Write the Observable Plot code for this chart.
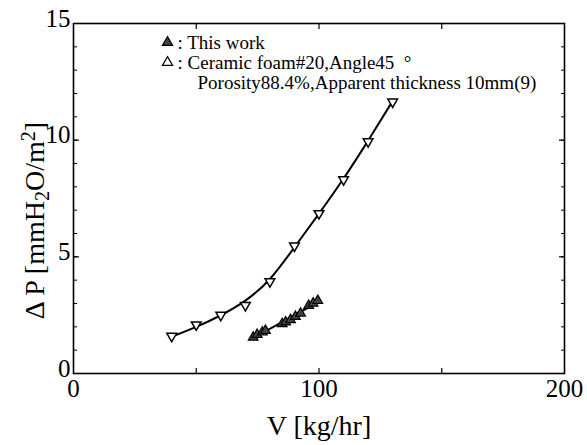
<!DOCTYPE html>
<html><head><meta charset="utf-8">
<script src="https://cdn.jsdelivr.net/npm/d3@7"></script>
<script src="https://cdn.jsdelivr.net/npm/@observablehq/plot@0.6"></script>
<style>
body{margin:0;background:#fff;}
#chart svg{font-family:"Liberation Serif",serif;}
</style>
</head><body><div id="chart"></div>
<script>
// Ceramic foam #20 (open, down-pointing triangles)
const refV = [40, 50, 60, 70, 80, 90, 100, 110, 120, 130];
const refP = [1.6, 2.09, 2.5, 2.92, 3.94, 5.47, 6.86, 8.31, 9.94, 11.64];
// fitted curve through the reference data
const fitV = [40, 50, 60, 70, 80, 90, 100, 110, 120, 130];
const fitP = [1.58, 1.98, 2.48, 3.08, 3.95, 5.42, 6.84, 8.33, 9.97, 11.68];
// This work (filled triangles)
const workV = [73.2, 74.8, 76.9, 78.2, 85.0, 86.4, 88.4, 90.4, 92.5, 95.8, 97.6, 99.5];
const workP = [1.55, 1.67, 1.77, 1.84, 2.13, 2.2, 2.3, 2.44, 2.58, 2.91, 3.01, 3.12];
const xTickLabels = [0, 100, 200];
const yTickLabels = [0, 5, 10, 15];
const legendLines = [": This work", ": Ceramic foam#20,Angle45  \u00B0", "Porosity88.4%,Apparent thickness 10mm(9)"];

const ref = refV.map((v, i) => ({v, p: refP[i]}));
const fit = fitV.map((v, i) => ({v, p: fitP[i]}));
const work = workV.map((v, i) => ({v, p: workP[i]}));

const font = "Liberation Serif";
const noLab = () => "";
const chart = Plot.plot({
  width: 587, height: 445,
  marginLeft: 73, marginRight: 23, marginTop: 23, marginBottom: 72,
  style: {fontFamily: font, background: "#fff", color: "#000"},
  x: {domain: [0, 200]},
  y: {domain: [0, 15]},
  marks: [
    Plot.frame({stroke: "#000", strokeWidth: 1.6}),
    // inward ticks
    Plot.axisX({anchor: "bottom", ticks: [50, 100, 150], tickSize: -5, tickFormat: noLab, label: null, strokeWidth: 1.2}),
    Plot.axisX({anchor: "top", ticks: [50, 100, 150], tickSize: -5, tickFormat: noLab, label: null, strokeWidth: 1.2}),
    Plot.axisY({anchor: "left", ticks: d3.range(1, 15), tickSize: -4, tickFormat: noLab, label: null, strokeWidth: 1}),
    Plot.axisY({anchor: "left", ticks: [5, 10], tickSize: -6, tickFormat: noLab, label: null, strokeWidth: 1.2}),
    Plot.axisY({anchor: "right", ticks: d3.range(1, 15), tickSize: -4, tickFormat: noLab, label: null, strokeWidth: 1}),
    Plot.axisY({anchor: "right", ticks: [5, 10], tickSize: -6, tickFormat: noLab, label: null, strokeWidth: 1.2}),
    // tick labels
    Plot.axisX({anchor: "bottom", ticks: xTickLabels, tickSize: 0, tickPadding: 6, fontSize: 25, label: null}),
    Plot.axisY({anchor: "left", ticks: yTickLabels, tickSize: 0, tickPadding: 3, fontSize: 25, label: null, dy: -5}),
    // axis titles
    Plot.text(["V [kg/hr]"], {frameAnchor: "bottom", dy: 61, fontSize: 28, fill: "#000"}),
    Plot.text(["\u0394 P [mmH2O/m2]"], {frameAnchor: "left", dx: -38, dy: 22, rotate: -90, textAnchor: "middle", fontSize: 28, fill: "#000", className: "ylab"}),
    // data
    Plot.line(fit, {x: "v", y: "p", curve: "basis", stroke: "#000", strokeWidth: 2}),
    Plot.linearRegressionY(work, {x: "v", y: "p", ci: 0, stroke: "#000", strokeWidth: 2}),
    Plot.dot(ref, {x: "v", y: "p", symbol: "triangle", rotate: 180, r: 3.6, fill: "#fff", stroke: "#000", strokeWidth: 1.5}),
    Plot.dot(work, {x: "v", y: "p", symbol: "triangle", r: 3.6, fill: "#444", stroke: "#000", strokeWidth: 1.2}),
    // legend
    Plot.dot([0], {frameAnchor: "top-left", dx: 94, dy: 19, symbol: "triangle", r: 3.8, fill: "#444", stroke: "#000", strokeWidth: 1.2}),
    Plot.dot([0], {frameAnchor: "top-left", dx: 94, dy: 39, symbol: "triangle", r: 3.8, fill: "#fff", stroke: "#000", strokeWidth: 1.2}),
    Plot.text([legendLines[0]], {frameAnchor: "top-left", dx: 104, dy: 19, textAnchor: "start", lineAnchor: "middle", fontSize: 19, fill: "#000"}),
    Plot.text([legendLines[1]], {frameAnchor: "top-left", dx: 104, dy: 39, textAnchor: "start", lineAnchor: "middle", fontSize: 19, fill: "#000"}),
    Plot.text([legendLines[2]], {frameAnchor: "top-left", dx: 124, dy: 59, textAnchor: "start", lineAnchor: "middle", fontSize: 19, fill: "#000"})
  ]
});
// subscript / superscript in the y-axis title
d3.select(chart).selectAll(".ylab text").each(function() {
  const t = d3.select(this);
  t.text(null);
  t.append("tspan").text("\u0394 P [mmH");
  t.append("tspan").attr("font-size", "0.72em").attr("baseline-shift", "-25%").text("2");
  t.append("tspan").text("O/m");
  t.append("tspan").attr("font-size", "0.72em").attr("baseline-shift", "45%").text("2");
  t.append("tspan").text("]");
});
document.getElementById("chart").appendChild(chart);
</script>
</body></html>
